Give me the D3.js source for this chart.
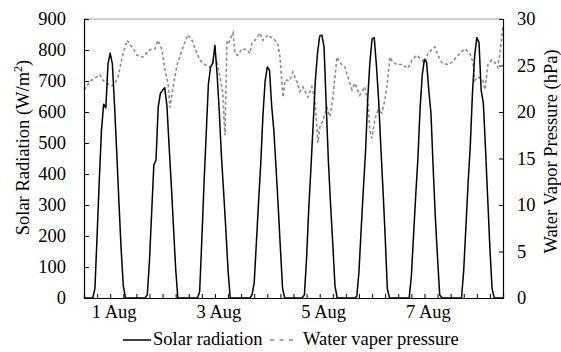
<!DOCTYPE html>
<html>
<head>
<meta charset="utf-8">
<script src="https://cdn.jsdelivr.net/npm/d3@7"></script>
<style>
  body { margin: 0; background: #fff; }
</style>
</head>
<body>
<div id="dataViz"></div>
<script>
//DATA
// hourly solar radiation (W/m2), hours 0..23 of each day, 1 Aug .. 8 Aug
let solarDay1 = [0,0,0,0,0,30,200,380,540,625,613,755,790,755,620,470,310,160,40,0,0,0,0,0];
let solarDay2 = [0,0,0,0,0,10,120,275,430,445,616,660,670,678,620,490,365,230,95,0,0,0,0,0];
let solarDay3 = [0,0,0,0,0,20,190,370,530,690,745,757,815,720,600,455,340,220,90,0,0,0,0,0];
let solarDay4 = [0,0,0,0,0,10,50,180,310,435,590,700,745,735,620,540,420,295,160,30,0,0,0,0];
let solarDay5 = [0,0,0,0,0,10,130,290,420,560,700,790,845,848,810,620,440,300,175,40,0,0,0,0];
let solarDay6 = [0,0,0,0,0,5,85,220,350,470,640,760,835,840,750,640,490,350,200,30,0,0,0,0];
let solarDay7 = [0,0,0,0,0,0,70,200,330,450,610,720,770,760,670,595,420,260,130,10,0,0,0,0];
let solarDay8 = [0,0,0,0,0,0,90,230,370,490,660,780,840,825,670,628,480,320,160,30,0,0,0,0];

// water vapour pressure (hPa) at hours since 1 Aug 00:00
let vaporHours = [0, 0.5, 2.7, 7.3, 8.7, 10.5, 12.8, 14.2, 15.6, 17.4, 19.7, 22.0, 24.3, 27.0, 30.2, 32.5, 33.9,
  35.7, 37.1, 38.5, 39.4, 40.8, 42.6, 44.9, 47.6, 49.5, 51.8, 53.1, 55.4, 57.7, 59.1, 60.9, 62.3, 63.7,
  64.1, 64.6, 65.5, 66.4, 68.3, 69.2, 70.5, 72.4, 74.7, 76.0, 77.0, 78.3, 80.6, 82.0, 84.3, 87.5, 88.9,
  89.8, 90.7, 91.2, 92.1, 94.4, 95.7, 97.6, 98.9, 100.3, 102.6, 104.4, 105.8, 106.7, 107.2, 108.1, 109.5,
  111.3, 112.7, 114.1, 115.9, 117.3, 119.6, 120.9, 122.8, 124.1, 126.4, 128.7, 130.1, 131.0, 131.9, 133.3,
  134.7, 136.5, 137.9, 138.8, 140.2, 141.5, 143.8, 146.1, 148.4, 150.3, 152.5, 153.9, 156.2, 157.6, 159.4,
  160.8, 162.2, 164.0, 166.7, 169.0, 171.3, 174.5, 176.8, 178.2, 179.1, 180.5, 182.8, 183.7, 185.1, 186.9,
  188.3, 189.6, 190.6, 191.9];
let vaporValues = [22.4, 22.5, 23.3, 24.0, 23.4, 23.1, 22.8, 23.1, 23.8, 25.8, 27.7, 27.0, 26.1, 25.9, 26.7, 26.8, 27.7,
  26.7, 24.5, 23.1, 20.5, 22.7, 25.0, 26.7, 28.3, 27.7, 26.3, 25.6, 25.1, 24.8, 25.4, 25.3, 23.8, 22.0,
  19.5, 17.5, 27.7, 27.5, 28.5, 26.3, 26.1, 26.8, 26.7, 26.3, 27.4, 27.7, 28.5, 27.7, 28.3, 27.7, 27.2,
  25.9, 23.1, 21.6, 23.4, 23.4, 24.3, 23.2, 22.2, 22.7, 21.6, 22.7, 21.3, 18.4, 16.7, 18.4, 19.1,
  20.5, 19.5, 21.6, 25.9, 25.3, 24.8, 23.8, 22.4, 23.1, 21.8, 22.7, 21.0, 18.0, 17.2, 19.2,
  20.2, 19.9, 21.3, 22.7, 25.9, 25.3, 25.1, 25.1, 24.7, 25.6, 26.1, 25.8, 25.3, 26.3, 26.7,
  27.0, 26.1, 25.3, 25.1, 25.4, 26.1, 26.8, 26.3, 25.4, 23.4, 23.8, 23.4, 22.4, 25.1, 25.6,
  25.3, 24.8, 26.3, 29.1];

let dayLabels = ["1 Aug", "3 Aug", "5 Aug", "7 Aug"];
let dayLabelHours = [12, 60, 108, 156];
let solarTicks = [0, 100, 200, 300, 400, 500, 600, 700, 800, 900];
let vaporTicks = [0, 5, 10, 15, 20, 25, 30];

let FONT = "'Liberation Serif', 'Times New Roman', serif";
let FSIZE = "18.5px";

//Create DIMENSIONS
let WIDTH = 561,
  HEIGHT = 352,
  MARGIN = { top: 19, right: 58, bottom: 54, left: 84 };
let innerW = WIDTH - MARGIN.left - MARGIN.right,
  innerH = HEIGHT - MARGIN.top - MARGIN.bottom;

let svg = d3
  .select("#dataViz")
  .append("svg")
  .attr("width", WIDTH)
  .attr("height", HEIGHT)
  .style("font-family", FONT);

let g = svg.append("g").attr("transform", `translate(${MARGIN.left},${MARGIN.top})`);

let solarDays = [solarDay1, solarDay2, solarDay3, solarDay4, solarDay5, solarDay6, solarDay7, solarDay8];
let solar = [];
solarDays.forEach((day, d) => day.forEach((v, h) => solar.push({ t: d * 24 + h, v: v })));
solar.push({ t: 192, v: 0 });
let vapor = vaporHours.map((t, i) => ({ t: t, v: vaporValues[i] }));

//SCALES
let xScale = d3.scaleLinear().domain([0, 192]).range([0, innerW]);
let yLeft = d3.scaleLinear().domain([0, 900]).range([innerH, 0]);
let yRight = d3.scaleLinear().domain([0, 30]).range([innerH, 0]);

//top frame line
g.append("line")
  .attr("x1", 0).attr("x2", innerW)
  .attr("y1", 0).attr("y2", 0)
  .attr("stroke", "#9a9a9a")
  .attr("stroke-width", 1);

//LINES
g.append("path")
  .datum(vapor)
  .attr("d", d3.line().x((d) => xScale(d.t)).y((d) => yRight(d.v)))
  .attr("fill", "none")
  .attr("stroke", "#8a8a8a")
  .attr("stroke-width", 1.6)
  .attr("stroke-dasharray", "3,2.5");

g.append("path")
  .datum(solar)
  .attr("d", d3.line().x((d) => xScale(d.t)).y((d) => yLeft(d.v)))
  .attr("fill", "none")
  .attr("stroke", "#000")
  .attr("stroke-width", 1.5)
  .attr("stroke-linejoin", "round");

//AXES
let leftAxis = g.append("g")
  .call(d3.axisLeft(yLeft).tickValues(solarTicks).tickSize(-5).tickPadding(18));
let rightAxis = g.append("g")
  .attr("transform", `translate(${innerW},0)`)
  .call(d3.axisRight(yRight).tickValues(vaporTicks).tickSize(-4).tickPadding(14));
let bottomAxis = g.append("g")
  .attr("transform", `translate(0,${innerH})`)
  .call(d3.axisBottom(xScale).tickValues(d3.range(0, 193, 6)).tickSize(-4).tickFormat(""));

[leftAxis, rightAxis, bottomAxis].forEach((a) => {
  a.attr("font-family", null).attr("font-size", null);
  a.selectAll("path").attr("stroke", "#000").attr("stroke-width", 1.2);
  a.selectAll("line").attr("stroke", "#000");
  a.selectAll("text").style("font-family", FONT).style("font-size", FSIZE).attr("fill", "#000");
});
rightAxis.selectAll("text").attr("text-anchor", "start");

//day labels
g.selectAll(".dayLabel")
  .data(dayLabels)
  .enter()
  .append("text")
  .attr("x", (d, i) => xScale(dayLabelHours[i]))
  .attr("dx", 4)
  .attr("y", innerH + 20)
  .attr("text-anchor", "middle")
  .style("font-family", FONT)
  .style("font-size", FSIZE)
  .text((d) => d);

//axis titles
let leftTitle = svg.append("text")
  .attr("transform", `translate(29,${MARGIN.top + innerH / 2 - 11}) rotate(-90)`)
  .attr("text-anchor", "middle")
  .style("font-family", FONT)
  .style("font-size", FSIZE);
leftTitle.append("tspan").text("Solar Radiation (W/m");
leftTitle.append("tspan").attr("baseline-shift", "super").style("font-size", "12px").text("2");
leftTitle.append("tspan").text(")");

svg.append("text")
  .attr("transform", `translate(557,${MARGIN.top + innerH / 2 - 7}) rotate(-90)`)
  .attr("text-anchor", "middle")
  .style("font-family", FONT)
  .style("font-size", FSIZE)
  .text("Water Vapor Pressure (hPa)");

//LEGEND
let legend = svg.append("g").attr("transform", `translate(123,340)`);
legend.append("line")
  .attr("x1", 0).attr("x2", 28).attr("y1", 0).attr("y2", 0)
  .attr("stroke", "#000").attr("stroke-width", 1.5);
legend.append("text").attr("x", 30).attr("y", 5)
  .style("font-family", FONT).style("font-size", FSIZE).text("Solar radiation");
legend.append("line")
  .attr("x1", 147).attr("x2", 170).attr("y1", 0).attr("y2", 0)
  .attr("stroke", "#8a8a8a").attr("stroke-width", 1.6).attr("stroke-dasharray", "4,5.5");
legend.append("text").attr("x", 180).attr("y", 5)
  .style("font-family", FONT).style("font-size", FSIZE).text("Water vaper pressure");
</script>
</body>
</html>
